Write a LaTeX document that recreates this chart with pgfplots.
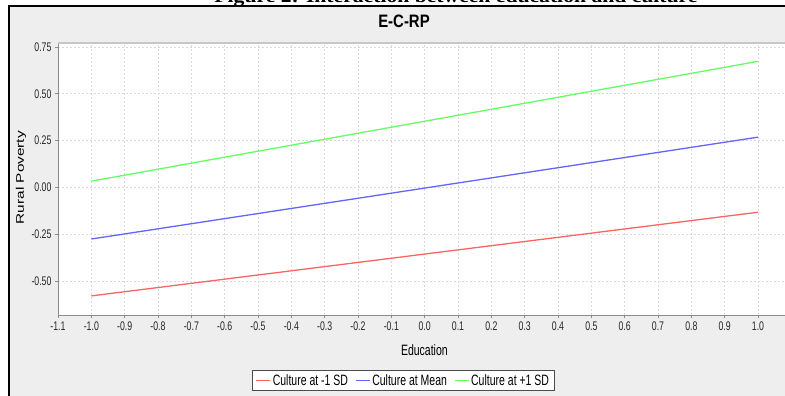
\documentclass[border=0pt]{standalone}
\usepackage{pgfplots}
\pgfplotsset{compat=1.18}
\usepackage{fontspec}
\setmainfont[FakeStretch=0.7]{Liberation Sans}
\newfontfamily\titlefont[FakeStretch=0.83]{Liberation Sans}
\newfontfamily\rotfont[FakeStretch=1.4]{Liberation Sans}
\newfontfamily\capfont{Liberation Serif}
\definecolor{panel}{RGB}{238,238,238}
\definecolor{lred}{RGB}{255,100,100}
\definecolor{lblue}{RGB}{100,100,255}
\definecolor{lgreen}{RGB}{100,255,100}
\begin{document}
\begin{tikzpicture}[x=1pt,y=1pt]
\useasboundingbox (0,0) rectangle (785,396);
\fill[white] (0,0) rectangle (785,396);
\fill[panel] (9,0) rectangle (785,390);
\draw[black, line width=1.3pt] (9,0) -- (9,390) -- (785,390);
\node[anchor=base, inner sep=0pt] at (456,393) {\resizebox{483pt}{13pt}{\capfont\bfseries Figure 2: Interaction between education and culture}};
\node[font=\titlefont\bfseries\fontsize{18}{20}\selectfont] at (404,375) {E-C-RP};
\begin{axis}[
  at={(58pt,81pt)}, anchor=south west,
  scale only axis, width=727pt, height=272pt,
  xmin=-1.1, xmax=1.081, ymin=-0.682, ymax=0.771,
  axis x line*=bottom, axis y line*=left,
  axis line style={draw=black!45, line width=0.8pt},
  axis background/.style={fill=white},
  tick align=outside, major tick length=3pt,
  tick style={black!45, line width=0.6pt},
  grid=major,
  grid style={dash pattern=on 2pt off 2pt, color=black!15, line width=0.6pt},
  xtick={-1.1,-1,-0.9,-0.8,-0.7,-0.6,-0.5,-0.4,-0.3,-0.2,-0.1,0,0.1,0.2,0.3,0.4,0.5,0.6,0.7,0.8,0.9,1.0},
  ytick={-0.5,-0.25,0,0.25,0.5,0.75},
  xticklabel style={/pgf/number format/.cd, fixed, fixed zerofill, precision=1, assume math mode=true},
  yticklabel style={/pgf/number format/.cd, fixed, fixed zerofill, precision=2, assume math mode=true},
  tick label style={font=\fontsize{12.5}{14}\selectfont, text=black!85},
  xlabel={Education},
  xlabel style={font=\fontsize{15}{17}\selectfont, at={(axis description cs:0.504,-0.129)}, anchor=center},
  ylabel={Rural Poverty},
  ylabel style={font=\rotfont\fontsize{11}{13}\selectfont, at={(axis description cs:-0.0509,0.505)}, anchor=center, rotate=0},
  legend style={at={(axis description cs:0.475,-0.202)}, anchor=north, draw=black!70, fill=white,
    font=\fontsize{15}{17}\selectfont, legend columns=3, line width=0.8pt,
    /tikz/every even column/.append style={column sep=5pt}},
  legend image code/.code={\draw[#1, line width=1.2pt] (0pt,0pt) -- (14pt,0pt);},
]
\addplot[lred, line width=1.3pt] coordinates {(-1,-0.580) (1,-0.133)};
\addlegendentry{Culture at -1 SD}
\addplot[lblue, line width=1.3pt] coordinates {(-1,-0.276) (1,0.268)};
\addlegendentry{Culture at Mean}
\addplot[lgreen, line width=1.3pt] coordinates {(-1,0.033) (1,0.673)};
\addlegendentry{Culture at +1 SD}
\end{axis}
\draw[black!22, line width=2pt] (58,353) -- (785,353);
\end{tikzpicture}
\end{document}
